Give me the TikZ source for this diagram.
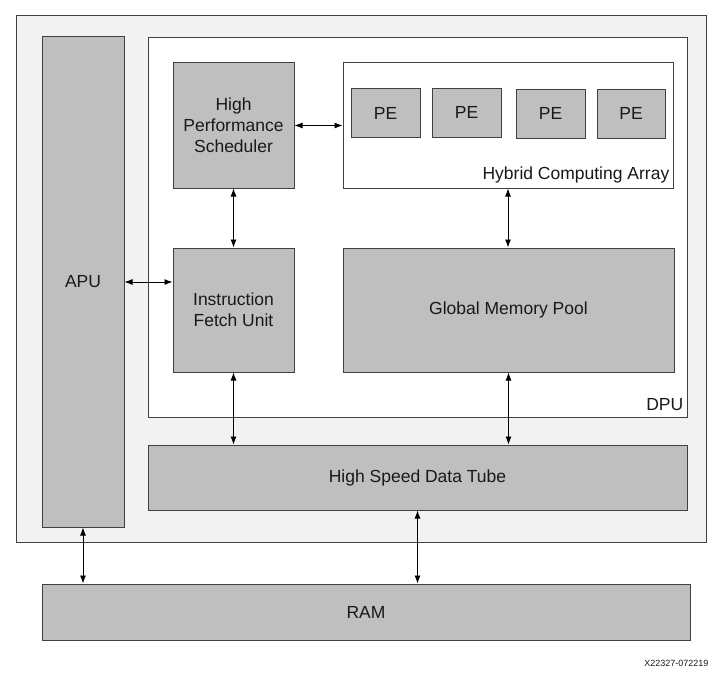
\documentclass[tikz,border=0pt]{standalone}
\usepackage{fontspec}
\setmainfont{Liberation Sans}
\usetikzlibrary{arrows, arrows.meta, positioning}

\begin{document}
\begin{tikzpicture}[
        x=1pt, y=-1pt,
        every node/.style={font=\fontsize{17.5}{21}\selectfont, text=black!90},
        chip/.style={draw=black!75, line width=1pt, fill=black!5, inner sep=0pt},
        panel/.style={draw=black!75, line width=1pt, fill=white, inner sep=0pt},
        block/.style={draw=black!75, line width=1pt, fill=black!25, align=center, inner sep=0pt},
        tag/.style={anchor=south east, inner xsep=4pt, inner ysep=5pt},
        link/.style={<->, >={Latex[length=8pt,width=6pt]}, line width=0.9pt}
    ]
        \useasboundingbox (0,0) rectangle (728,677);

        % Vẽ các khung
        \node[chip, minimum width=690pt, minimum height=526pt] (soc) at (361,279) {};
        \node[block, minimum width=82pt, minimum height=490pt] (apu) at (83,282) {APU};
        \node[panel, minimum width=539pt, minimum height=379pt] (dpu) at (417.5,227.5) {};
        \node[tag, inner ysep=7pt] (dpulbl) at (dpu.south east) {DPU};

        % Vẽ các khối trong DPU
        \node[block, minimum width=121pt, minimum height=125pt] (hps) at (233.5,125.5) {High\\Performance\\Scheduler};
        \node[panel, minimum width=330pt, minimum height=125pt] (hca) at (508,125.5) {};
        \node[tag] (hcalbl) at (hca.south east) {Hybrid Computing Array};
        \node[block, minimum width=69pt, minimum height=49pt] (pe1) at (385.5,113) {PE};
        \node[block, minimum width=69pt, minimum height=49pt] (pe2) at (466.5,112.5) {PE};
        \node[block, minimum width=69pt, minimum height=49pt] (pe3) at (550.5,113.5) {PE};
        \node[block, minimum width=68pt, minimum height=49pt] (pe4) at (631,113.5) {PE};
        \node[block, minimum width=121pt, minimum height=124pt] (ifu) at (233.5,310) {Instruction\\Fetch Unit};
        \node[block, minimum width=331pt, minimum height=124pt] (gmp) at (508.5,310) {Global Memory Pool};

        % Vẽ đường dữ liệu và bộ nhớ
        \node[block, minimum width=539pt, minimum height=65pt] (hsdt) at (417.5,477.5) {High Speed Data Tube};
        \node[block, minimum width=648pt, minimum height=56pt] (ram) at (366,612) {RAM};
        \node[anchor=east, font=\fontsize{9}{10}\selectfont] (code) at (712,663) {X22327-072219};

        % Thêm các mũi tên
        \draw[link] (hps) -- (hca);
        \draw[link] (hps) -- (ifu);
        \draw[link] (apu.east) -- (apu.east -| ifu.west);
        \draw[link] (hca.south) -- (hca.south |- gmp.north);
        \draw[link] (ifu.south) -- (ifu.south |- hsdt.north);
        \draw[link] (gmp.south) -- (gmp.south |- hsdt.north);
        \draw[link] (apu.south) -- (apu.south |- ram.north);
        \draw[link] (hsdt.south) -- (hsdt.south |- ram.north);
    \end{tikzpicture}
\end{document}
